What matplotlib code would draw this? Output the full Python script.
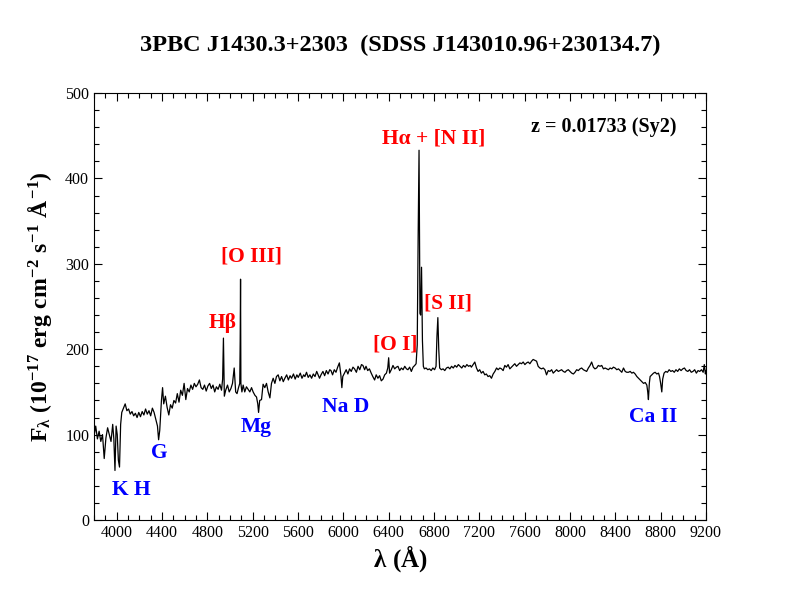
import matplotlib
matplotlib.use("Agg")
import matplotlib.pyplot as plt
from matplotlib.ticker import MultipleLocator

plt.rcParams['font.family'] = ['Liberation Serif', 'DejaVu Serif']
plt.rcParams['mathtext.fontset'] = 'custom'
plt.rcParams['mathtext.rm'] = 'Liberation Serif:bold'
plt.rcParams['mathtext.it'] = 'Liberation Serif:bold'
plt.rcParams['mathtext.bf'] = 'Liberation Serif:bold'

# spectrum (wavelength in A, flux in 1e-17 erg/cm2/s/A)
wavelength = [
    3800, 3815, 3830, 3845, 3860, 3875, 3890, 3905, 3920, 3935, 3950, 3965, 3975, 3985, 3995,
    4005, 4015, 4025, 4035, 4045, 4060, 4075, 4090, 4105, 4120, 4135, 4150, 4165, 4180, 4195,
    4210, 4225, 4240, 4255, 4270, 4285, 4300, 4315, 4330, 4345, 4360, 4370, 4380, 4395, 4405,
    4415, 4430, 4445, 4460, 4475, 4490, 4505, 4520, 4535, 4550, 4565, 4580, 4595, 4610, 4625,
    4640, 4655, 4670, 4685, 4700, 4715, 4730, 4745, 4760, 4775, 4790, 4805, 4820, 4835, 4850,
    4865, 4880, 4895, 4910, 4925, 4935, 4942, 4950, 4962, 4978, 4993, 5008, 5022, 5037, 5050,
    5062, 5075, 5086, 5090, 5093, 5096, 5105, 5116, 5130, 5145, 5160, 5175, 5190, 5204, 5220,
    5234, 5245, 5252, 5262, 5278, 5292, 5307, 5322, 5337, 5352, 5366, 5381, 5396, 5410, 5425,
    5440, 5455, 5470, 5484, 5500, 5515, 5530, 5543, 5560, 5575, 5590, 5602, 5620, 5635, 5650,
    5661, 5675, 5690, 5705, 5720, 5735, 5750, 5765, 5778, 5790, 5803, 5820, 5835, 5850, 5865,
    5880, 5891, 5905, 5920, 5935, 5950, 5965, 5978, 5987, 5995, 6010, 6025, 6040, 6055, 6070,
    6085, 6099, 6115, 6130, 6145, 6160, 6173, 6188, 6200, 6215, 6230, 6246, 6260, 6276, 6290,
    6305, 6320, 6335, 6350, 6365, 6380, 6392, 6400, 6408, 6423, 6438, 6453, 6468, 6482, 6497,
    6512, 6527, 6542, 6557, 6570, 6585, 6600, 6615, 6630, 6642, 6652, 6660, 6668, 6676, 6682,
    6690, 6698, 6706, 6715, 6730, 6745, 6760, 6775, 6790, 6805, 6818, 6826, 6834, 6842, 6850,
    6865, 6880, 6895, 6910, 6925, 6940, 6955, 6970, 6985, 7000, 7015, 7030, 7045, 7060, 7075,
    7090, 7105, 7120, 7130, 7145, 7160, 7175, 7189, 7203, 7218, 7233, 7248, 7262, 7277, 7292,
    7307, 7322, 7337, 7352, 7366, 7381, 7396, 7410, 7425, 7439, 7454, 7469, 7483, 7498, 7513,
    7528, 7543, 7558, 7572, 7587, 7602, 7617, 7631, 7646, 7661, 7675, 7690, 7705, 7719, 7734,
    7749, 7764, 7779, 7793, 7808, 7823, 7838, 7852, 7867, 7882, 7897, 7911, 7926, 7941, 7956,
    7970, 7985, 8000, 8015, 8030, 8044, 8059, 8074, 8088, 8103, 8118, 8133, 8147, 8162, 8177,
    8191, 8206, 8220, 8235, 8250, 8265, 8280, 8295, 8310, 8325, 8339, 8354, 8369, 8383, 8398,
    8413, 8428, 8442, 8457, 8472, 8487, 8501, 8516, 8531, 8546, 8560, 8575, 8590, 8605, 8620,
    8635, 8649, 8664, 8678, 8686, 8692, 8700, 8707, 8722, 8737, 8751, 8766, 8781, 8790, 8800,
    8810, 8818, 8830, 8845, 8860, 8875, 8890, 8905, 8920, 8935, 8950, 8965, 8980, 8995, 9010,
    9025, 9040, 9055, 9070, 9085, 9100, 9115, 9130, 9145, 9160, 9175, 9185, 9195, 9200,
]
flux = [
    98, 110, 95, 104, 92, 100, 72, 96, 108, 100, 92, 112, 95, 58, 110,
    100, 70, 62, 112, 126, 131, 136, 128, 130, 124, 127, 122, 125, 120, 126,
    121, 127, 123, 130, 124, 128, 122, 131, 126, 118, 110, 94, 105, 140, 155,
    136, 145, 132, 123, 135, 131, 140, 137, 148, 138, 152, 146, 160, 141, 154,
    150, 158, 153, 160, 156, 159, 164, 155, 153, 158, 151, 157, 160, 154, 158,
    150, 156, 153, 159, 152, 165, 213, 145, 152, 158, 150, 154, 160, 178, 150,
    148, 155, 160, 212, 282, 160, 150, 158, 150, 156, 153, 150, 155, 150, 146,
    144, 136, 126, 140, 141, 159, 155, 160, 150, 143, 160, 166, 160, 168, 170,
    163, 168, 162, 166, 170, 164, 169, 166, 171, 165, 170, 167, 172, 166, 170,
    168, 173, 167, 170, 166, 171, 168, 174, 170, 166, 170, 174, 169, 175, 171,
    176, 175, 170, 176, 173, 179, 184, 170, 155, 168, 172, 176, 171, 177, 174,
    179, 177, 173, 180, 176, 182, 181, 176, 180, 175, 177, 172, 168, 164, 170,
    166, 169, 163, 165, 170, 172, 178, 190, 172, 176, 181, 177, 179, 180, 175,
    178, 176, 180, 177, 176, 179, 174, 179, 181, 183, 205, 330, 433, 242, 240,
    296, 210, 180, 177, 178, 176, 177, 175, 178, 176, 180, 215, 237, 200, 178,
    176, 177, 175, 178, 179, 177, 180, 178, 181, 179, 182, 180, 178, 181, 179,
    182, 180, 181, 179, 182, 185, 178, 174, 176, 172, 174, 170, 171, 168, 169,
    166, 171, 174, 178, 176, 178, 177, 175, 181, 179, 182, 177, 179, 181, 183,
    180, 182, 184, 183, 185, 182, 184, 185, 183, 186, 188, 187, 186, 180, 178,
    177, 178, 176, 170, 175, 174, 176, 172, 174, 176, 174, 175, 176, 174, 173,
    175, 176, 174, 172, 171, 173, 176, 175, 177, 178, 176, 175, 174, 178, 181,
    185, 179, 177, 178, 181, 180, 181, 177, 178, 177, 176, 178, 177, 179, 178,
    176, 177, 175, 173, 178, 174, 173, 173, 174, 172, 173, 171, 168, 166, 164,
    162, 160, 161, 158, 150, 141, 160, 168, 170, 172, 173, 171, 172, 168, 160,
    150, 165, 172, 174, 173, 176, 174, 175, 173, 176, 174, 177, 175, 177, 178,
    175, 174, 176, 173, 174, 176, 172, 175, 174, 176, 173, 182, 171, 175,
]

# line labels: text, wavelength, flux
emission_labels = ["H\u03b2", "[O III]", "[O I]", "H\u03b1 + [N II]", "[S II]"]
emission_x = [4937, 5193, 6457, 6800, 6925]
emission_y = [231, 308, 205, 447, 254]

absorption_labels = ["K H", "G", "Mg", "Na D", "Ca II"]
absorption_x = [4125, 4372, 5228, 6016, 8730]
absorption_y = [35, 78, 109, 132, 121]

fig = plt.figure(figsize=(7.92, 6.12), dpi=100)
ax = fig.add_axes([0.1187, 0.1503, 0.7727, 0.6977])

ax.plot(wavelength, flux, color='black', linewidth=0.9)

for t, x, y in zip(emission_labels, emission_x, emission_y):
    ax.text(x, y, t, color='#ff0000', fontsize=15.5, fontweight='bold',
            ha='center', va='center')
for t, x, y in zip(absorption_labels, absorption_x, absorption_y):
    ax.text(x, y, t, color='#0000ff', fontsize=15.5, fontweight='bold',
            ha='center', va='center')

ax.text(8300, 460, "z = 0.01733 (Sy2)", color='black', fontsize=14.5,
        fontweight='bold', ha='center', va='center')

ax.set_xlim(3800, 9200)
ax.set_ylim(0, 500)
ax.xaxis.set_major_locator(MultipleLocator(400))
ax.xaxis.set_minor_locator(MultipleLocator(100))
ax.yaxis.set_major_locator(MultipleLocator(100))
ax.yaxis.set_minor_locator(MultipleLocator(20))
ax.set_xticks(range(4000, 9201, 400))
ax.tick_params(which='both', direction='in', top=True, right=True, labelsize=11.5)
ax.tick_params(which='major', length=6, width=0.8)
ax.tick_params(which='minor', length=3.5, width=0.8)

ax.set_xlabel(r'$\lambda\ (\AA)$', fontsize=18, labelpad=2)
ax.set_ylabel(r'$F_{\lambda}\ (10^{-17}\ erg\ cm^{-2}\ s^{-1}\ \AA^{-1})$', fontsize=17, labelpad=8)
ax.set_title("3PBC J1430.3+2303  (SDSS J143010.96+230134.7)", fontsize=17.5,
             fontweight='bold', pad=30)

fig.savefig("out.png", dpi=100)
